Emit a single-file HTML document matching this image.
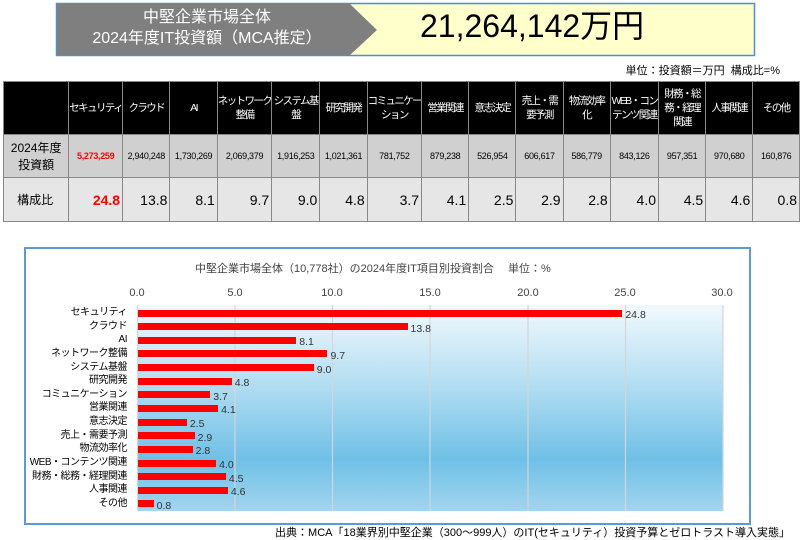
<!DOCTYPE html>
<html><head><meta charset="utf-8"><style>
body{margin:0;width:800px;height:540px;background:#fff;position:relative;overflow:hidden;font-family:"Liberation Sans","Noto Sans CJK JP",sans-serif;}
.a{position:absolute;}
table{position:absolute;left:3px;top:81px;border-collapse:collapse;table-layout:fixed;}
td{border:1px solid #888;padding:0;text-align:center;white-space:nowrap;overflow:hidden;}
tr.h td{background:#000;color:#fff;font-size:10.5px;height:52px;line-height:14px;letter-spacing:-1.6px;}
tr.r2 td{background:#d0d0d0;font-size:9px;height:42px;letter-spacing:-0.3px;}
tr.r3 td{background:#e6e6e6;font-size:14px;height:43px;text-align:right;padding-right:2px;}
tr td:first-child{font-size:12px;text-align:center;color:#000;letter-spacing:0;}
.lbl{position:absolute;left:0;width:127px;font-size:10px;line-height:12px;text-align:right;letter-spacing:-0.5px;white-space:nowrap;}
.bar{position:absolute;left:138px;height:7px;background:#f00;}
.val{position:absolute;font-size:10.5px;line-height:12px;color:#333;}
</style></head><body>
<svg class="a" style="left:0;top:0" width="800" height="60">
<rect x="56.5" y="3.5" width="698" height="52" fill="#ffffcc" stroke="#4a90d0" stroke-width="1.5"/>
<polygon points="57,4 350,4 377,30 350,55 57,55" fill="#7f7f7f"/>
</svg>
<div class="a" style="left:57px;top:7px;width:300px;text-align:center;color:#fff;font-size:16px;line-height:21px">中堅企業市場全体<br>2024年度IT投資額（MCA推定）</div>
<div class="a" style="left:420px;top:6px;font-size:32px;line-height:40px;color:#000">21,264,142万円</div>
<div class="a" style="left:600px;top:62px;width:180px;text-align:right;font-size:11px">単位：投資額＝万円&nbsp; 構成比=%</div>
<table>
<colgroup><col style="width:67px"><col span="15" style="width:48.5px"></colgroup>
<tr class="h"><td></td><td>セキュリティ</td><td>クラウド</td><td>AI</td><td>ネットワーク<br>整備</td><td>システム基<br>盤</td><td>研究開発</td><td>コミュニケー<br>ション</td><td>営業関連</td><td>意志決定</td><td>売上・需<br>要予測</td><td>物流効率<br>化</td><td>WEB・コン<br>テンツ関連</td><td>財務・総<br>務・経理<br>関連</td><td>人事関連</td><td>その他</td></tr>
<tr class="r2"><td>2024年度<br>投資額</td><td style="color:#f00;font-weight:bold">5,273,259</td><td>2,940,248</td><td>1,730,269</td><td>2,069,379</td><td>1,916,253</td><td>1,021,361</td><td>781,752</td><td>879,238</td><td>526,954</td><td>606,617</td><td>586,779</td><td>843,126</td><td>957,351</td><td>970,680</td><td>160,876</td></tr>
<tr class="r3"><td>構成比</td><td style="color:#f00;font-weight:bold">24.8</td><td>13.8</td><td>8.1</td><td>9.7</td><td>9.0</td><td>4.8</td><td>3.7</td><td>4.1</td><td>2.5</td><td>2.9</td><td>2.8</td><td>4.0</td><td>4.5</td><td>4.6</td><td>0.8</td></tr>
</table>
<div class="a" style="left:24px;top:247px;width:723px;height:274px;border:2px solid #5b9bd5;"></div>
<div class="a" style="left:195px;top:260px;font-size:11px;color:#444">中堅企業市場全体（10,778社）の2024年度IT項目別投資割合　 単位：%</div>
<div class="a" style="left:137px;top:305px;width:586px;height:206px;background:linear-gradient(#f2f9fd 0%,#b9e0f3 35%,#6fc0e6 75%,#a3d5ef 100%)"></div>
<svg class="a" style="left:0;top:0" width="800" height="540">
<g stroke="#d0d6da" stroke-width="1.2">
<line x1="137.5" y1="305" x2="137.5" y2="511"/><line x1="235" y1="305" x2="235" y2="511"/><line x1="332.5" y1="305" x2="332.5" y2="511"/><line x1="430" y1="305" x2="430" y2="511"/><line x1="528" y1="305" x2="528" y2="511"/><line x1="625.5" y1="305" x2="625.5" y2="511"/><line x1="723" y1="305" x2="723" y2="511"/></g>
<g font-size="11" fill="#444" text-anchor="middle" font-family="Liberation Sans,sans-serif">
<text x="137" y="296">0.0</text><text x="235" y="296">5.0</text><text x="332" y="296">10.0</text><text x="430" y="296">15.0</text><text x="528" y="296">20.0</text><text x="625" y="296">25.0</text><text x="722" y="296">30.0</text></g>
</svg>
<div id="bars"></div>
<div class="a" style="left:250px;top:524px;width:540px;text-align:right;font-size:11px;color:#000">出典：MCA「18業界別中堅企業（300～999人）のIT(セキュリティ）投資予算とゼロトラスト導入実態」</div>
<script>
var d=[["セキュリティ",24.8],["クラウド",13.8],["AI",8.1],["ネットワーク整備",9.7],["システム基盤",9.0],["研究開発",4.8],["コミュニケーション",3.7],["営業関連",4.1],["意志決定",2.5],["売上・需要予測",2.9],["物流効率化",2.8],["WEB・コンテンツ関連",4.0],["財務・総務・経理関連",4.5],["人事関連",4.6],["その他",0.8]];
var h="";d.forEach(function(r,i){var c=313+i*13.64;var w=r[1]*19.53;
h+='<div class="lbl" style="top:'+(c-6)+'px">'+r[0]+'</div><div class="bar" style="top:'+(c-3.5)+'px;width:'+w+'px"></div><div class="val" style="left:'+(141+w)+'px;top:'+(c-4)+'px">'+r[1].toFixed(1)+'</div>';});
document.getElementById("bars").innerHTML=h;
</script>
</body></html>
